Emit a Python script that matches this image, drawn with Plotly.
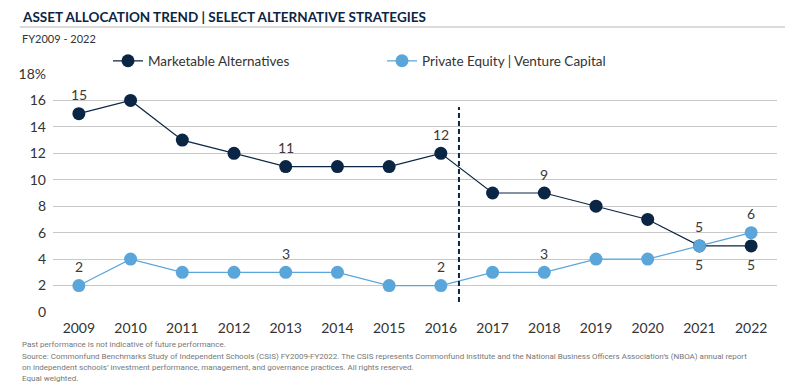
import plotly.graph_objects as go

years = [2009, 2010, 2011, 2012, 2013, 2014, 2015, 2016, 2017, 2018, 2019, 2020, 2021, 2022]
marketable = [15, 16, 13, 12, 11, 11, 11, 12, 9, 9, 8, 7, 5, 5]
private_eq = [2, 4, 3, 3, 3, 3, 2, 2, 3, 3, 4, 4, 5, 6]
# labelled points: (year, value, position)
mkt_labels = [(2009, 15, "above"), (2013, 11, "above"), (2016, 12, "above"), (2018, 9, "above"),
              (2021, 5, "below"), (2022, 5, "below")]
pe_labels = [(2009, 2, "above"), (2013, 3, "above"), (2016, 2, "above"), (2018, 3, "above"),
             (2021, 5, "above"), (2022, 6, "above")]
y_ticks = [0, 2, 4, 6, 8, 10, 12, 14, 16, 18]
y_ticktext = ["0", "2", "4", "6", "8", "10", "12", "14", "16", "18%"]

NAVY = "#0b2545"
LIGHT = "#5aa6da"
FONT = "Lato"


def px_x(X):
    return (X - 53) / 724


def px_y(Y):
    return (312 - Y) / 238


fig = go.Figure()
fig.add_trace(go.Scatter(x=years, y=marketable, mode="lines+markers", name="Marketable Alternatives",
                         line=dict(color=NAVY, width=1.2), marker=dict(color=NAVY, size=13)))
fig.add_trace(go.Scatter(x=years, y=private_eq, mode="lines+markers", name="Private Equity | Venture Capital",
                         line=dict(color=LIGHT, width=1.2), marker=dict(color=LIGHT, size=13)))

for yr, v, pos in mkt_labels + pe_labels:
    fig.add_annotation(x=yr, y=v, text=str(v), showarrow=False,
                       yshift=19 if pos == "above" else -19,
                       font=dict(family=FONT, size=14, color="#3a3a3a"))

fig.add_shape(type="line", xref="x", yref="y", x0=2016.35, x1=2016.35, y0=0.75, y1=15.5,
              line=dict(color=NAVY, width=2, dash="5px,3px"))

# title rule
fig.add_shape(type="line", xref="paper", yref="paper", x0=px_x(20), x1=px_x(785),
              y0=px_y(27), y1=px_y(27), line=dict(color="#b5b5b5", width=1))

fig.add_annotation(xref="paper", yref="paper", x=px_x(20), y=px_y(17),
                   xanchor="left", yanchor="middle", showarrow=False,
                   text="<b>ASSET ALLOCATION TREND | SELECT ALTERNATIVE STRATEGIES</b>",
                   font=dict(family=FONT, size=13.5, color="#0b2545"))
fig.add_annotation(xref="paper", yref="paper", x=px_x(20), y=px_y(38),
                   xanchor="left", yanchor="middle", showarrow=False,
                   text="FY2009 - 2022", font=dict(family=FONT, size=11, color="#333333"))

foot = [
    (344, "Past performance is not indicative of future performance."),
    (356, "Source: Commonfund Benchmarks Study of Independent Schools (CSIS) FY2009-FY2022. The CSIS represents Commonfund Institute and the National Business Officers Association\u2019s (NBOA) annual report"),
    (367, "on independent schools\u2019 investment performance, management, and governance practices. All rights reserved."),
    (378, "Equal weighted."),
]
for ypx, t in foot:
    fig.add_annotation(xref="paper", yref="paper", x=px_x(20), y=px_y(ypx),
                       xanchor="left", yanchor="middle", showarrow=False, text=t,
                       font=dict(family="Roboto", size=8, color="#777777"))

fig.update_layout(
    width=800, height=392,
    margin=dict(l=45, r=31, t=66, b=88),
    paper_bgcolor="white", plot_bgcolor="white",
    font=dict(family=FONT, size=14, color="#333333"),
    showlegend=True,
    legend=dict(orientation="h", x=px_x(108), y=px_y(61), xanchor="left", yanchor="middle",
                entrywidth=229, entrywidthmode="pixels",
                font=dict(family=FONT, size=13.5, color="#333333"), bgcolor="rgba(0,0,0,0)"),
    xaxis=dict(range=[2008.5, 2022.5], tickmode="array", tickvals=years, ticktext=[str(y) for y in years],
               showgrid=False, zeroline=False, showline=False, ticks="",
               ticklabelstandoff=6,
               tickfont=dict(family=FONT, size=14, color="#333333")),
    yaxis=dict(range=[0, 18], tickmode="array", tickvals=y_ticks, ticktext=y_ticktext,
               showgrid=True, gridcolor="#c8c8c8", gridwidth=1, zeroline=False, ticks="",
               ticklabelstandoff=6,
               tickfont=dict(family=FONT, size=14, color="#333333")),
)

fig.write_html("out.html")
